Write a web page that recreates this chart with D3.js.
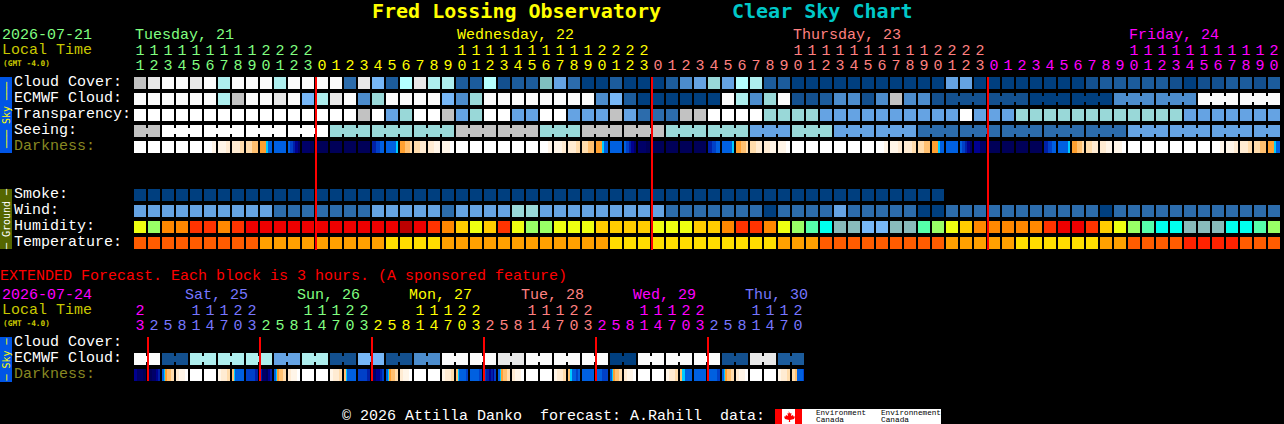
<!DOCTYPE html>
<head>
<meta charset="utf-8">
<style>
  body { margin: 0; background: #000; }
  svg { display: block; }
  text { font-family: "Liberation Mono", monospace; font-size: 15px; }
  .title { font-family: "DejaVu Sans Mono", monospace; font-size: 20px; font-weight: bold; }
  .tiny { font-family: "DejaVu Sans Mono", monospace; font-size: 7.8px; font-weight: bold; }
  .side { font-family: "DejaVu Sans Mono", monospace; font-size: 10px; }
  rect { shape-rendering: crispEdges; }
</style>
</head>
<body>
  <svg width="1284" height="424"></svg>

  <script src="https://d3js.org/d3.v7.min.js"></script>
  <script>
  // main forecast: one value per hour, levels index into the palettes below
  const hours = [11,12,13,14,15,16,17,18,19,20,21,22,23,
    0,1,2,3,4,5,6,7,8,9,10,11,12,13,14,15,16,17,18,19,20,21,22,23,
    0,1,2,3,4,5,6,7,8,9,10,11,12,13,14,15,16,17,18,19,20,21,22,23,
    0,1,2,3,4,5,6,7,8,9,10,11,12,13,14,15,16,17,18,19,20];
  const cloudCover = [11,12,13,13,12,13,9,13,13,13,9,13,13,13,13,3,12,6,2,10,12,
    9,9,2,2,10,1,2,2,7,5,3,0,0,2,0,0,0,2,4,5,8,5,10,9,2,2,0,0,0,0,0,
    0,0,0,0,0,0,5,5,0,0,0,0,0,0,0,0,1,2,2,2,2,2,1,0,1,1,2,2,1,2];
  const ecmwfCloud = [13,13,13,13,13,13,9,11,13,13,12,13,6,9,12,13,4,8,13,13,13,
    13,6,4,8,13,13,13,13,13,13,13,13,4,6,2,0,0,0,0,0,0,13,9,4,8,13,1,1,2,4,4,
    1,4,11,4,4,1,1,1,1,1,1,1,0,0,0,0,0,0,4,4,4,4,4,4,13,13,13,13,13,13];
  const transparency = [14,14,14,14,14,14,14,14,14,14,14,14,14,14,14,14,11,14,5,8,14,
    14,11,5,8,14,14,5,5,14,14,5,5,5,11,5,3,3,3,11,11,14,14,14,14,8,8,8,8,5,5,5,
    5,5,5,5,5,5,5,14,5,5,5,8,8,8,8,8,8,8,8,8,8,8,8,5,5,5,5,5,5,5];
  const seeing = [11,14,14,14,14,8,8,8,11,11,8,11,11,8,8,5,8,5,5,3,3,3,3,3,5,5,5,5];
  const seeingBlocks = [2,3,3,3,3,3,3,3,3,3,3,3,3,3,3,3,3,3,3,3,3,3,3,3,3,3,3,2];
  const darkness = ['0','0','0','0','0','001','112','223','3344','555555667777','7','7788899aaabb','bbbbcc',
    'c','c','c','c','998877','777777777766','5555444433','3322','2211','110',
    '0','0','0','0','0','0','001','112','223','3344','555555667777','7','7788899aaabb','bbbbcc',
    'c','c','c','c','998877','777777777766','5555444433','3322','2211','110',
    '0','0','0','0','0','0','001','112','223','3344','555555667777','7','7788899aaabb','aabb',
    'c','c','c','c','998877','777777777766','5555444433','3322','2211','110',
    '0','0','0','0','0','0','001','112','223','3344','555555667777'];
  const smoke = [0,0,0,0,0,0,0,0,0,0,0,0,0,0,0,0,0,0,0,0,0,0,0,0,0,0,0,0,0,
    0,0,0,0,0,0,0,0,0,0,0,0,0,0,0,0,0,0,0,0,0,0,0,0,0,0,0,0,0];
  const wind = [5,5,5,5,5,5,5,5,5,5,3,3,3,3,3,3,3,5,5,5,5,
    5,3,5,5,5,5,8,8,5,5,5,5,5,5,5,5,5,3,3,3,3,3,3,3,0,3,3,3,3,5,3,
    3,3,3,3,0,0,3,3,3,3,3,3,3,3,3,3,3,0,3,3,3,3,3,3,3,3,3,3,3,3];
  const humidity = [5,6,3,3,2,2,3,2,1,1,1,1,1,1,1,1,1,1,1,0,1,
    2,3,4,5,4,2,5,6,6,5,5,5,4,4,4,4,5,5,5,4,4,3,2,2,3,5,6,7,8,9,9,
    10,10,9,9,7,6,5,4,3,3,3,3,3,2,1,1,2,4,5,6,7,8,8,9,9,9,8,8,7,6];
  const temperature = [1,1,1,1,1,1,1,1,1,2,2,2,2,2,2,2,2,2,3,3,3,
    3,2,2,2,2,2,2,2,2,2,2,2,2,3,3,3,3,3,3,3,3,3,3,3,3,2,2,2,1,1,1,
    1,1,1,1,1,1,2,2,2,2,2,3,3,3,3,3,3,2,2,1,1,1,1,0,0,0,0,1,1,1];

  // extended forecast: one value per 3 hour block
  const extHours = [23,2,5,8,11,14,17,20,23,2,5,8,11,14,17,20,23,2,5,8,11,14,17,20,23,
    2,5,8,11,14,17,20,23,2,5,8,11,14,17,20,23,2,5,8,11,14,17,20];
  const extEcmwf = [13,1,9,9,9,5,9,1,6,1,4,13,13,12,13,13,13,0,13,13,13,1,12,2];
  const extDarkness = ['abbc','ccbba9','7654433','2110','0','0','1223','4677777','8889','9bbca9','7654433','2110',
    '0','0','1223','4677777','8889','bbaa98','7654433','2110','0','0','1223','4677778',
    '7778','899a9a8','7654433','2110','0','0','1223','467787','7','7788','7654433','2110',
    '0','0','1223','46777','7','7778','7654433','2110','0','0','1223','33477778'];

  const dayNames = ['Tuesday, 21', 'Wednesday, 22', 'Thursday, 23', 'Friday, 24'];
  const dayLabelCols = [0, 23, 47, 71];
  const dayStartCols = [0, 13, 37, 61];
  const dayColors = ['#80ff80', '#ffff00', '#ff8080', '#ff00ff'];
  const extNames = ['Sat, 25', 'Sun, 26', 'Mon, 27', 'Tue, 28', 'Wed, 29', 'Thu, 30'];
  const extLabelCols = [4, 12, 20, 28, 36, 44];
  const extStartCols = [0, 1, 9, 17, 25, 33, 41];
  const extColors = ['#ff00ff', '#7777ff', '#80ff80', '#ffff00', '#ff8080', '#ff00ff', '#7777ff'];
  const midnightCols = [13, 37, 61];
  const extMidnightCols = [1, 9, 17, 25, 33, 41];

  const skyRows = ['Cloud Cover:', 'ECMWF Cloud:', 'Transparency:', 'Seeing:', 'Darkness:'];
  const groundRows = ['Smoke:', 'Wind:', 'Humidity:', 'Temperature:'];
  const extRows = ['Cloud Cover:', 'ECMWF Cloud:', 'Darkness:'];

  const cloudPalette = ['#003f7f', '#13508f', '#1c5c9c', '#2c6cac', '#4c8ccc', '#65a3e3', '#77b7f7', '#7fbfbf',
    '#99d8d8', '#aeeeee', '#b4ffff', '#c2c2c2', '#e8e8e8', '#fbfbfb', '#ffffff'];
  const humidityPalette = ['#bb0000', '#ee0000', '#ff3300', '#ff8800', '#ffcc00', '#eeff11', '#99ff66', '#55ffaa',
    '#00ffee', '#88bbbb', '#77b7f7'];
  const tempPalette = ['#ff2200', '#ff5c00', '#ffa000', '#ffdd00'];
  const darkPalette = {'0': '#ffffff', '1': '#fff5e8', '2': '#ffebd2', '3': '#ffdcac', '4': '#ffc070', '5': '#ffa030',
    '6': '#00ccff', '7': '#0060e0', '8': '#0040c8', '9': '#0020a8', 'a': '#000090', 'b': '#000068', 'c': '#000058'};

  const svg = d3.select('svg');
  const cellPad = 1 / 7;

  const colScale = (n) => d3.scaleBand()
    .domain(d3.range(n))
    .range([134, 134 + n * 14 - 2])
    .paddingInner(cellPad);
  const x = colScale(hours.length);
  const xExt = colScale(extHours.length);

  const rowScale = (names, top) => d3.scaleBand()
    .domain(names)
    .range([top, top + names.length * 16 - 4])
    .paddingInner(0.25);
  const ySky = rowScale(skyRows, 77);
  const yGround = rowScale(groundRows, 189);
  const yExt = rowScale(extRows, 337);

  const label = (xPos, yPos, txt, fill, cls) => svg.append('text')
    .attr('x', xPos).attr('y', yPos).attr('fill', fill).attr('class', cls || null)
    .attr('xml:space', 'preserve').text(txt);

  // one row of blocks, joined cells get a small bridge across the gap
  const drawRow = (xs, y, values, palette, blockIds) => {
    const bw = xs.bandwidth();
    const g = svg.append('g');
    g.selectAll('rect.cell')
      .data(values)
      .enter().append('rect')
      .attr('class', 'cell')
      .attr('x', (d, i) => xs(i))
      .attr('y', y)
      .attr('width', bw)
      .attr('height', 12)
      .attr('fill', d => palette[d]);
    if (!blockIds) return;
    const joins = d3.range(values.length - 1).filter(i => blockIds[i] === blockIds[i + 1]);
    g.selectAll('rect.join')
      .data(joins)
      .enter().append('rect')
      .attr('class', 'join')
      .attr('x', i => xs(i) + bw)
      .attr('y', y + 3)
      .attr('width', xs.step() - bw)
      .attr('height', 6)
      .attr('fill', i => palette[values[i]]);
  };

  const drawDarkness = (xs, y, cells) => {
    const bw = xs.bandwidth();
    const slices = cells.flatMap((s, i) => s.split('').map((c, j) => ({ i, j, c, n: s.length })));
    svg.append('g').selectAll('rect')
      .data(slices)
      .enter().append('rect')
      .attr('x', d => xs(d.i) + bw * d.j / d.n)
      .attr('y', y)
      .attr('width', d => bw / d.n + 0.01)
      .attr('height', 12)
      .attr('fill', d => darkPalette[d.c]);
  };

  const blockIds = (sizes) => sizes.flatMap((n, b) => d3.range(n).map(() => b));
  const seeingIds = blockIds(seeingBlocks);
  const seeingByCol = seeingIds.map(b => seeing[b]);
  // ECMWF goes to 3 hourly steps from column 58 on
  const ecmwfIds = hours.map((h, i) => i < 58 ? 'h' + i : Math.floor((i - 58) / 3));
  const extEcmwfCols = extHours.map((h, i) => extEcmwf[Math.floor(i / 2)]);
  const extEcmwfIds = extHours.map((h, i) => Math.floor(i / 2));

  const hourAxis = (xs, yPos, fmt, color) => {
    const g = svg.append('g')
      .attr('transform', `translate(0,${yPos})`)
      .call(d3.axisTop(xs).tickSize(0).tickPadding(0).tickFormat(fmt));
    g.select('.domain').remove();
    g.attr('font-size', null).attr('font-family', null);
    g.selectAll('text').attr('fill', color);
  };
  const colorAt = (starts, colors) => (i) => colors[d3.bisectRight(starts, i) - 1];

  const sideBar = (yTop, h, fill, txt, textFill) => {
    svg.append('rect').attr('x', 0).attr('y', yTop).attr('width', 12).attr('height', h).attr('fill', fill);
    svg.append('text')
      .attr('class', 'side')
      .attr('transform', `translate(9.5,${yTop + h / 2}) rotate(-90)`)
      .attr('text-anchor', 'middle')
      .attr('fill', textFill)
      .attr('xml:space', 'preserve')
      .text(txt);
  };

  // titles
  label(372, 18, 'Fred Lossing Observatory', '#ffff00', 'title');
  label(732, 18, 'Clear Sky Chart', '#00c8c8', 'title');

  // main header
  label(2, 39, '2026-07-21', '#80ff80');
  label(2, 54, 'Local Time', '#c8c800');
  label(3, 65.5, '(GMT -4.0)', '#c8c800', 'tiny');
  const mainColor = colorAt(dayStartCols, dayColors);
  dayNames.forEach((n, k) => label(x(dayLabelCols[k]) + 1, 39, n, dayColors[k]));
  hourAxis(x, 55, i => hours[i] >= 10 ? Math.floor(hours[i] / 10) : '', mainColor);
  hourAxis(x, 69.5, i => hours[i] % 10, mainColor);

  // sky rows
  sideBar(77, 76, '#0055e6', '\u2500\u2500\u2500 Sky \u2500\u2500\u2500', '#ffff00');
  skyRows.forEach(r => label(14, ySky(r) + 9, r, r === 'Darkness:' ? '#888822' : '#ffffff'));
  drawRow(x, ySky('Cloud Cover:'), cloudCover, cloudPalette);
  drawRow(x, ySky('ECMWF Cloud:'), ecmwfCloud, cloudPalette, ecmwfIds);
  drawRow(x, ySky('Transparency:'), transparency, cloudPalette);
  drawRow(x, ySky('Seeing:'), seeingByCol, cloudPalette, seeingIds);
  drawDarkness(x, ySky('Darkness:'), darkness);

  // ground rows
  sideBar(189, 60, '#556600', '\u2500 Ground \u2500', '#ffffff');
  groundRows.forEach(r => label(14, yGround(r) + 9, r, '#ffffff'));
  drawRow(x, yGround('Smoke:'), smoke, cloudPalette);
  drawRow(x, yGround('Wind:'), wind, cloudPalette);
  drawRow(x, yGround('Humidity:'), humidity, humidityPalette);
  drawRow(x, yGround('Temperature:'), temperature, tempPalette);

  svg.append('g').selectAll('rect')
    .data(midnightCols)
    .enter().append('rect')
    .attr('x', c => x(c) - 1)
    .attr('y', 77)
    .attr('width', 2)
    .attr('height', 173)
    .attr('fill', '#ff0000');

  // extended forecast
  label(0, 280, 'EXTENDED Forecast. Each block is 3 hours. (A sponsored feature)', '#ff0000');
  label(2, 299, '2026-07-24', '#ff00ff');
  label(2, 314, 'Local Time', '#c8c800');
  label(3, 325.5, '(GMT -4.0)', '#c8c800', 'tiny');
  const extColor = colorAt(extStartCols, extColors);
  extNames.forEach((n, k) => label(xExt(extLabelCols[k]) - 5, 299, n, extColors[k + 1]));
  hourAxis(xExt, 315, i => extHours[i] >= 10 ? Math.floor(extHours[i] / 10) : '', extColor);
  hourAxis(xExt, 329.5, i => extHours[i] % 10, extColor);

  sideBar(337, 45, '#0055e6', '\u2500 Sky \u2500', '#ffff00');
  extRows.forEach(r => label(14, yExt(r) + 9, r, r === 'Darkness:' ? '#888822' : '#ffffff'));
  drawRow(xExt, yExt('ECMWF Cloud:'), extEcmwfCols, cloudPalette, extEcmwfIds);
  drawDarkness(xExt, yExt('Darkness:'), extDarkness);

  svg.append('g').selectAll('rect')
    .data(extMidnightCols)
    .enter().append('rect')
    .attr('x', c => xExt(c) - 1)
    .attr('y', 337)
    .attr('width', 2)
    .attr('height', 44)
    .attr('fill', '#ff0000');

  // footer with the Environment Canada logo
  label(342, 420, '\u00a9 2026 Attilla Danko  forecast: A.Rahill  data:', '#ffffff');
  svg.append('rect').attr('x', 775).attr('y', 409).attr('width', 166).attr('height', 15).attr('fill', '#ffffff');
  svg.append('rect').attr('x', 775).attr('y', 409).attr('width', 7).attr('height', 15).attr('fill', '#ff0000');
  svg.append('rect').attr('x', 795).attr('y', 409).attr('width', 7).attr('height', 15).attr('fill', '#ff0000');
  svg.append('path')
    .attr('d', 'M788.5 411l1.5 2.5 1.5-.5-.5 3 2-1 .5 1.5 1.5 0-1 2.5-4 1 .2 2h-1.4l.2-2-4-1-1-2.5 1.5 0 .5-1.5 2 1-.5-3 1.5.5z')
    .attr('fill', '#ff0000');
  [['Environment', 816, 415, 50], ['Canada', 816, 422, 28], ['Environnement', 881, 415, 60], ['Canada', 881, 422, 28]]
    .forEach(([t, tx, ty, w]) => {
      svg.append('text')
        .attr('x', tx).attr('y', ty)
        .attr('textLength', w).attr('lengthAdjust', 'spacingAndGlyphs')
        .attr('fill', '#000').style('font-size', '8px')
        .text(t);
    });
  </script>
</body>
</html>
